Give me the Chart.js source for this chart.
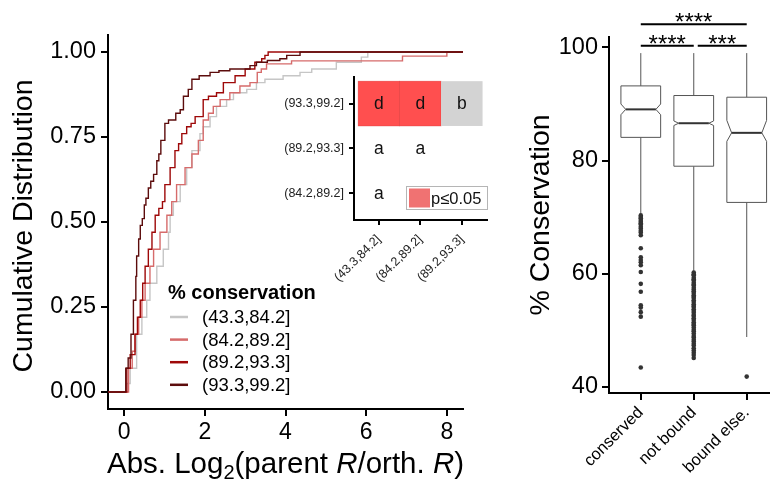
<!DOCTYPE html>
<html>
<head>
<meta charset="utf-8">
<script src="https://cdn.jsdelivr.net/npm/chart.js@4.4.1/dist/chart.umd.min.js"></script>
<style>
html, body { margin: 0; padding: 0; background: #fff; overflow: hidden; width: 770px; height: 481px; }
#wrap { position: relative; width: 770px; height: 481px; }
canvas { position: absolute; }
#ecdf { left: 0; top: 0; }
#inset { left: 270px; top: 60px; }
#box { left: 500px; top: 0; }
</style>
</head>
<body>
<div id="wrap">
  <canvas id="ecdf" width="500" height="481" style="width:500px;height:481px"></canvas>
  <canvas id="inset" width="230" height="260" style="width:230px;height:260px"></canvas>
  <canvas id="box" width="290" height="481" style="width:290px;height:481px"></canvas>
</div>
<script>
// ---- left panel: cumulative distributions ----
const groupLabels = ['(43.3,84.2]', '(84.2,89.2]', '(89.2,93.3]', '(93.3,99.2]']
const groupColors = ['#c6c6c6', '#d66b6b', '#9e0808', '#5c0c0c']
const xLimits = [-0.4, 8.4]
const xTicks = [0, 2, 4, 6, 8]
const yTicks = [0, 0.25, 0.5, 0.75, 1]

// step positions
const ecdfX1 = [0.0, 0.066, 0.15, 0.31, 0.44, 0.56, 0.64, 0.81, 0.97, 1.10, 1.14, 1.22, 1.39, 1.55, 1.68, 1.88, 1.96, 2.13, 2.29, 2.54, 2.71, 3.04, 3.28, 3.49, 3.94, 4.36, 4.65, 5.26, 5.88, 6.04]
const ecdfF1 = [0.0, 0.025, 0.07, 0.17, 0.22, 0.27, 0.32, 0.37, 0.42, 0.47, 0.52, 0.56, 0.61, 0.66, 0.71, 0.76, 0.78, 0.81, 0.84, 0.86, 0.88, 0.89, 0.91, 0.92, 0.93, 0.94, 0.95, 0.97, 0.985, 1.0]
const ecdfX2 = [0.0, 0.11, 0.20, 0.27, 0.36, 0.44, 0.52, 0.64, 0.73, 0.89, 1.06, 1.18, 1.30, 1.51, 1.68, 1.84, 1.96, 2.09, 2.21, 2.38, 2.62, 2.87, 3.12, 3.30, 3.40, 3.53, 4.15, 6.9, 8.0]
const ecdfF2 = [0.0, 0.07, 0.12, 0.17, 0.22, 0.27, 0.32, 0.37, 0.42, 0.47, 0.52, 0.56, 0.61, 0.66, 0.70, 0.74, 0.80, 0.82, 0.84, 0.86, 0.88, 0.90, 0.91, 0.94, 0.95, 0.965, 0.974, 0.988, 1.0]
const ecdfX3 = [0.0, 0.066, 0.15, 0.27, 0.33, 0.40, 0.46, 0.52, 0.60, 0.69, 0.77, 0.86, 0.95, 1.01, 1.14, 1.26, 1.35, 1.43, 1.55, 1.66, 1.76, 1.96, 2.09, 2.29, 2.46, 2.75, 3.0, 3.24, 3.41, 3.49, 3.57]
const ecdfF3 = [0.0, 0.07, 0.11, 0.17, 0.22, 0.27, 0.32, 0.37, 0.42, 0.47, 0.52, 0.54, 0.56, 0.61, 0.66, 0.71, 0.73, 0.76, 0.78, 0.79, 0.81, 0.86, 0.87, 0.88, 0.91, 0.93, 0.95, 0.97, 0.98, 0.99, 1.0]
const ecdfX4 = [0.0, 0.04, 0.10, 0.17, 0.23, 0.29, 0.31, 0.36, 0.40, 0.45, 0.50, 0.54, 0.60, 0.66, 0.73, 0.81, 0.86, 0.91, 1.01, 1.10, 1.18, 1.28, 1.39, 1.47, 1.59, 1.68, 1.86, 2.13, 2.35, 2.62, 3.12, 3.28, 3.55, 3.86, 4.03, 4.36]
const ecdfF4 = [0.0, 0.07, 0.10, 0.17, 0.27, 0.34, 0.40, 0.45, 0.49, 0.51, 0.55, 0.57, 0.60, 0.62, 0.64, 0.68, 0.70, 0.74, 0.79, 0.80, 0.80, 0.82, 0.83, 0.87, 0.89, 0.92, 0.93, 0.94, 0.945, 0.95, 0.96, 0.97, 0.975, 0.98, 0.99, 1.0]

// ---- inset: pairwise comparison grid ----
const insetCols = ['(43.3,84.2]', '(84.2,89.2]', '(89.2,93.3]']
const insetRows = ['(84.2,89.2]', '(89.2,93.3]', '(93.3,99.2]']   // bottom to top
const cellLetters = [['a', '', ''], ['a', 'a', ''], ['d', 'd', 'b']]
const cellFill = [['', '', ''], ['', '', ''], ['sig', 'sig', 'ns']]

// ---- right panel: boxplots ----
const boxCats = ['conserved', 'not bound', 'bound else.']
const whiskerLow = [70.6, 60.3, 48.8]
const q1 = [84.1, 79.0, 72.6]
const median = [89.05, 86.6, 84.9]
const q3 = [93.2, 91.5, 91.2]
const whiskerHigh = [99.0, 99.0, 99.0]
const notchLow = [88.1, 86.2, 83.4]
const notchHigh = [90.0, 87.0, 87.1]
const outConserved = [70.3, 70.0, 69.8, 69.5, 69.2, 68.9, 68.7, 68.3, 68.0, 67.6, 67.3, 66.8, 64.5, 62.9, 62.4, 62.0, 61.5, 60.3, 58.2, 56.8, 54.4, 54.0, 53.2, 52.4, 43.4]
const outNotBound = [60.2, 59.9, 59.7, 59.3, 59.0, 58.8, 58.4, 58.1, 57.9, 57.5, 57.2, 56.9, 56.6, 56.2, 55.9, 55.7, 55.3, 55.0, 54.6, 54.3, 54.1, 53.7, 53.4, 53.1, 52.7, 52.5, 52.1, 51.8, 51.4, 51.1, 50.9, 50.5, 50.1, 49.8, 49.4, 49.0, 48.7, 48.3, 48.0, 47.6, 47.3, 46.8, 46.4, 46.0, 45.6, 45.1]
const outBoundElse = [41.8]
const boxYTicks = [40, 60, 80, 100]
const sigFrom = [0, 1, 0]
const sigTo = [1, 2, 2]
const sigY = [100.3, 100.3, 104.1]
const sigText = ['****', '***', '****']

const FONT = '"Liberation Sans", Arial, Helvetica, sans-serif'
Chart.defaults.font.family = FONT
Chart.defaults.color = '#000'

function fixedTicks(list) {
  return function(scale) { scale.ticks = list.map(v => ({ value: v })) }
}
function axisStyle(extra) {
  return Object.assign({
    grid: { drawOnChartArea: false, color: '#000', lineWidth: 2, tickLength: 7 },
    border: { display: true, color: '#000', width: 2 }
  }, extra)
}

let ecdfX = [ecdfX1, ecdfX2, ecdfX3, ecdfX4]
let ecdfF = [ecdfF1, ecdfF2, ecdfF3, ecdfF4]
let ecdfSets = groupLabels.map(function(lab, k) {
  let pts = [{ x: xLimits[0], y: 0 }]
  ecdfX[k].forEach((x, i) => pts.push({ x: x, y: ecdfF[k][i] }))
  pts.push({ x: xLimits[1], y: 1 })
  return {
    label: lab, data: pts, borderColor: groupColors[k], borderWidth: 1.4,
    stepped: 'before', pointRadius: 0, fill: false, order: 4 - k
  }
})

let ecdfDecor = {
  id: 'ecdfDecor',
  afterDraw: function(chart) {
    let ctx = chart.ctx
    let area = chart.chartArea
    ctx.save()
    ctx.fillStyle = '#000'
    // y title
    ctx.save()
    ctx.translate(24, (area.top + area.bottom) / 2 + 4)
    ctx.rotate(-Math.PI / 2)
    ctx.font = '28.5px ' + FONT
    ctx.textAlign = 'center'
    ctx.textBaseline = 'middle'
    ctx.fillText('Cumulative Distribution', 0, 0)
    ctx.restore()
    // x title with subscript and italics
    let parts = [
      { t: 'Abs. Log', f: '29.5px ' }, { t: '2', f: '20px ', dy: 6 },
      { t: '(parent ', f: '29.5px ' }, { t: 'R', f: 'italic 29.5px ' },
      { t: '/orth. ', f: '29.5px ' }, { t: 'R', f: 'italic 29.5px ' }, { t: ')', f: '29.5px ' }
    ]
    let total = 0
    parts.forEach(p => { ctx.font = p.f + FONT; p.w = ctx.measureText(p.t).width; total += p.w })
    let x = (area.left + area.right) / 2 - total / 2
    ctx.textBaseline = 'alphabetic'
    ctx.textAlign = 'left'
    parts.forEach(p => { ctx.font = p.f + FONT; ctx.fillText(p.t, x, 473 + (p.dy || 0)); x += p.w })
    // legend
    ctx.font = 'bold 20px ' + FONT
    ctx.fillText('% conservation', 168, 299)
    ctx.font = '18.5px ' + FONT
    ctx.textBaseline = 'middle'
    groupLabels.forEach(function(lab, k) {
      let y = 317 + k * 22.6
      ctx.strokeStyle = groupColors[k]
      ctx.lineWidth = 2.5
      ctx.beginPath()
      ctx.moveTo(170, y)
      ctx.lineTo(188, y)
      ctx.stroke()
      ctx.fillText(lab, 202, y + 1)
    })
    ctx.restore()
  }
}

new Chart(document.getElementById('ecdf'), {
  type: 'line',
  data: { datasets: ecdfSets },
  options: {
    responsive: false, animation: false,
    layout: { padding: { left: 0, top: 35, right: 37, bottom: 0 } },
    plugins: { legend: { display: false }, tooltip: { enabled: false } },
    scales: {
      x: axisStyle({
        type: 'linear', min: xLimits[0], max: xLimits[1],
        afterBuildTicks: fixedTicks(xTicks),
        afterFit: function(s) { s.height = 72 },
        ticks: { font: { size: 23 }, padding: 3, color: '#000' }
      }),
      y: axisStyle({
        type: 'linear', min: -0.05, max: 1.05,
        afterBuildTicks: fixedTicks(yTicks),
        afterFit: function(s) { s.width = 108 },
        ticks: { font: { size: 23.5 }, padding: 5, color: '#000', callback: v => v.toFixed(2) }
      })
    }
  },
  plugins: [ecdfDecor]
})

// ---- inset chart ----
let insetDecor = {
  id: 'insetDecor',
  beforeDatasetsDraw: function(chart) {
    let ctx = chart.ctx
    let xs = chart.scales.x, ys = chart.scales.y
    ctx.save()
    cellLetters.forEach(function(row, r) {
      row.forEach(function(letter, c) {
        let x0 = xs.getPixelForValue(c - 0.5), x1 = xs.getPixelForValue(c + 0.5)
        let y0 = ys.getPixelForValue(r + 0.5), y1 = ys.getPixelForValue(r - 0.5)
        if (cellFill[r][c] == 'sig') {
          ctx.fillStyle = '#ff4f4f'
          ctx.fillRect(x0, y0, x1 - x0, y1 - y0)
          ctx.strokeStyle = 'rgba(215,40,40,0.6)'
          ctx.lineWidth = 0.6
          ctx.strokeRect(x0, y0, x1 - x0, y1 - y0)
        } else if (cellFill[r][c] == 'ns') {
          ctx.fillStyle = '#d3d3d3'
          ctx.fillRect(x0, y0, x1 - x0, y1 - y0)
        }
        if (letter) {
          ctx.fillStyle = '#111'
          ctx.font = '17.5px ' + FONT
          ctx.textAlign = 'center'
          ctx.textBaseline = 'middle'
          ctx.fillText(letter, (x0 + x1) / 2, (y0 + y1) / 2 + 1)
        }
      })
    })
    // p-value key
    let bx = 136, by = 126
    ctx.fillStyle = '#fff'
    ctx.fillRect(bx, by, 81, 23)
    ctx.strokeStyle = '#b5b5b5'
    ctx.lineWidth = 1
    ctx.strokeRect(bx + 0.5, by + 0.5, 81, 23)
    ctx.fillStyle = '#f07272'
    ctx.fillRect(bx + 3, by + 2.5, 21, 19)
    ctx.fillStyle = '#111'
    ctx.font = '16.5px ' + FONT
    ctx.textAlign = 'left'
    ctx.textBaseline = 'middle'
    ctx.fillText('p\u22640.05', bx + 25, by + 13)
    ctx.restore()
  }
}

new Chart(document.getElementById('inset'), {
  type: 'scatter',
  data: { datasets: [{ data: [], pointRadius: 0 }] },
  options: {
    responsive: false, animation: false,
    layout: { padding: { left: 0, top: 16.7, right: 13.3, bottom: 0 } },
    plugins: { legend: { display: false }, tooltip: { enabled: false } },
    scales: {
      x: axisStyle({
        type: 'linear', min: -0.6, max: 2.6,
        afterBuildTicks: fixedTicks([0, 1, 2]),
        afterFit: function(s) { s.height = 100 },
        grid: { drawOnChartArea: false, color: '#000', lineWidth: 2, tickLength: 5 },
        ticks: { font: { size: 12.5 }, color: '#222', padding: 7, minRotation: 45, maxRotation: 45,
          callback: v => insetCols[v] }
      }),
      y: axisStyle({
        type: 'linear', min: -0.6, max: 2.6,
        afterBuildTicks: fixedTicks([0, 1, 2]),
        afterFit: function(s) { s.width = 84 },
        grid: { drawOnChartArea: false, color: '#000', lineWidth: 2, tickLength: 5 },
        ticks: { font: { size: 12.5 }, color: '#222', padding: 5, callback: v => insetRows[v] }
      })
    }
  },
  plugins: [insetDecor]
})

// ---- boxplot chart ----
let outlierPts = []
;[outConserved, outNotBound, outBoundElse].forEach(function(list, i) {
  list.forEach(v => outlierPts.push({ x: i, y: v }))
})

let boxDecor = {
  id: 'boxDecor',
  beforeDatasetsDraw: function(chart) {
    let ctx = chart.ctx
    let xs = chart.scales.x, ys = chart.scales.y
    ctx.save()
    boxCats.forEach(function(cat, i) {
      let xc = xs.getPixelForValue(i)
      let xl = xs.getPixelForValue(i - 0.375), xr = xs.getPixelForValue(i + 0.375)
      let inset = (xr - xl) * 0.12
      let py = v => ys.getPixelForValue(v)
      ctx.strokeStyle = '#555'
      ctx.lineWidth = 1
      // whiskers
      ctx.beginPath()
      ctx.moveTo(xc, py(whiskerHigh[i])); ctx.lineTo(xc, py(q3[i]))
      ctx.moveTo(xc, py(q1[i])); ctx.lineTo(xc, py(whiskerLow[i]))
      ctx.stroke()
      // notched box
      ctx.fillStyle = '#fff'
      ctx.beginPath()
      ctx.moveTo(xl, py(q3[i]))
      ctx.lineTo(xr, py(q3[i]))
      ctx.lineTo(xr, py(notchHigh[i]))
      ctx.lineTo(xr - inset, py(median[i]))
      ctx.lineTo(xr, py(notchLow[i]))
      ctx.lineTo(xr, py(q1[i]))
      ctx.lineTo(xl, py(q1[i]))
      ctx.lineTo(xl, py(notchLow[i]))
      ctx.lineTo(xl + inset, py(median[i]))
      ctx.lineTo(xl, py(notchHigh[i]))
      ctx.closePath()
      ctx.fill()
      ctx.stroke()
      ctx.strokeStyle = '#333'
      ctx.lineWidth = 2
      ctx.beginPath()
      ctx.moveTo(xl + inset, py(median[i]))
      ctx.lineTo(xr - inset, py(median[i]))
      ctx.stroke()
    })
    ctx.restore()
  },
  afterDraw: function(chart) {
    let ctx = chart.ctx
    let xs = chart.scales.x, ys = chart.scales.y
    ctx.save()
    ctx.strokeStyle = '#000'
    ctx.fillStyle = '#000'
    ctx.lineWidth = 2
    sigFrom.forEach(function(a, k) {
      let x0 = xs.getPixelForValue(a), x1 = xs.getPixelForValue(sigTo[k])
      let y = ys.getPixelForValue(sigY[k])
      if (k == 1) x0 += 4
      ctx.beginPath()
      ctx.moveTo(x0, y)
      ctx.lineTo(x1, y)
      ctx.stroke()
      ctx.font = '24px ' + FONT
      ctx.textAlign = 'center'
      ctx.textBaseline = 'alphabetic'
      ctx.fillText(sigText[k], (x0 + x1) / 2, y + 6)
    })
    // y title
    ctx.translate(41, 215)
    ctx.rotate(-Math.PI / 2)
    ctx.font = '28.5px ' + FONT
    ctx.textAlign = 'center'
    ctx.textBaseline = 'middle'
    ctx.fillText('% Conservation', 0, 0)
    ctx.restore()
  }
}

new Chart(document.getElementById('box'), {
  type: 'scatter',
  data: { datasets: [{ data: outlierPts, pointRadius: 2.3, backgroundColor: '#333', borderWidth: 0 }] },
  options: {
    responsive: false, animation: false,
    layout: { padding: { left: 0, top: 36.7, right: 11.5, bottom: 0 } },
    plugins: { legend: { display: false }, tooltip: { enabled: false } },
    scales: {
      x: axisStyle({
        type: 'linear', min: -0.6, max: 2.6,
        afterBuildTicks: fixedTicks([0, 1, 2]),
        afterFit: function(s) { s.height = 88 },
        ticks: { font: { size: 16.5 }, color: '#000', padding: 3, minRotation: 45, maxRotation: 45,
          callback: v => boxCats[v] }
      }),
      y: axisStyle({
        type: 'linear', min: 38.9, max: 101.9,
        afterBuildTicks: fixedTicks(boxYTicks),
        afterFit: function(s) { s.width = 109 },
        ticks: { font: { size: 23.5 }, color: '#000', padding: 4 }
      })
    }
  },
  plugins: [boxDecor]
})
</script>
</body>
</html>
